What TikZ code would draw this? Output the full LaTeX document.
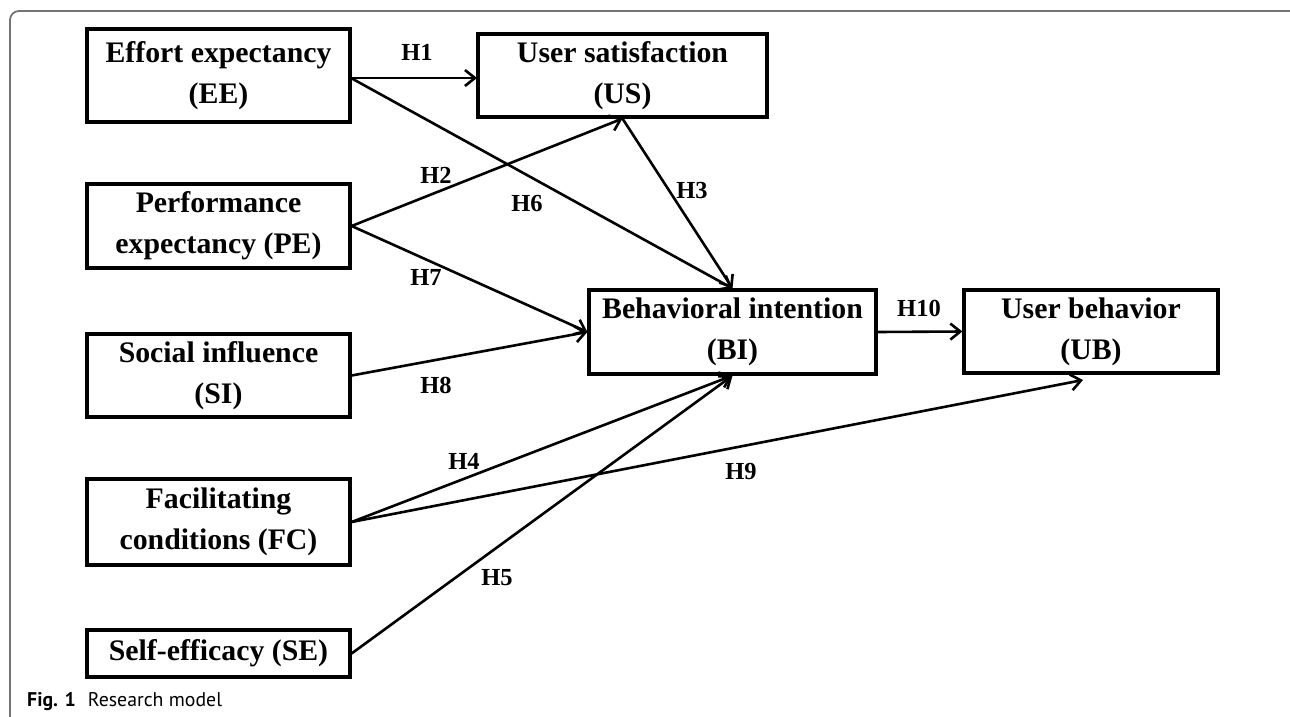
\documentclass[tikz,border=0pt]{standalone}
\usepackage{fontspec}
\setmainfont{Liberation Serif}
\newfontfamily\capfont{PT Sans}
\usetikzlibrary{arrows.meta}
\begin{document}
\begin{tikzpicture}[x=1pt,y=-1pt,
  box/.style={draw, line width=3.2pt, inner sep=0pt, align=center, font=\fontsize{29.8}{41}\selectfont\bfseries},
  hyp/.style={font=\fontsize{24.5}{24.5}\selectfont\bfseries, inner sep=0pt},
  conn/.style={line width=2.6pt, -{Straight Barb[length=10pt,width=16pt,line width=2.6pt]}},
]
\useasboundingbox (0,0) rectangle (1290,717);
\draw[black!55, line width=1.8pt, rounded corners=9pt] (10,717) -- (10,11) -- (1290,11);

\node[box, minimum width=263pt, minimum height=93pt] (EE) at (218.5,75.5) {Effort expectancy\\(EE)};
\node[box, minimum width=263pt, minimum height=84pt] (PE) at (218.5,226) {Performance\\expectancy (PE)};
\node[box, minimum width=263pt, minimum height=83pt] (SI) at (218.5,375.5) {Social influence\\(SI)};
\node[box, minimum width=263pt, minimum height=86pt] (FC) at (218.5,522) {Facilitating\\conditions (FC)};
\node[box, minimum width=263pt, minimum height=47pt] (SE) at (218.5,653.5) {Self-efficacy (SE)};
\node[box, minimum width=289pt, minimum height=83pt] (US) at (622.5,75.5) {User satisfaction\\(US)};
\node[box, minimum width=287pt, minimum height=84pt] (BI) at (732.5,332) {Behavioral intention\\(BI)};
\node[box, minimum width=254pt, minimum height=83pt] (UB) at (1091,331.5) {User behavior\\(UB)};

\coordinate (EEo) at (351,78);
\coordinate (USi) at (477,78);
\coordinate (UBtip) at (1083,380);

\draw[conn] (EEo) -- (USi);
\draw[conn] (EEo) -- (BI.north);
\draw[conn] (PE.east) -- (US.south);
\draw[conn] (US.south) -- (BI.north);
\draw[conn] (PE.east) -- (BI.west);
\draw[conn] (SI.east) -- (BI.west);
\draw[conn] (FC.east) -- (BI.south);
\draw[conn] (SE.east) -- (BI.south);
\draw[conn] (FC.east) -- (UBtip);
\draw[conn] (BI.east) -- (UB.west);

\node[hyp] (h1) at (417,52) {H1};
\node[hyp] (h2) at (436,175) {H2};
\node[hyp] (h3) at (692,191) {H3};
\node[hyp] (h4) at (464,461) {H4};
\node[hyp] (h5) at (497,578) {H5};
\node[hyp] (h6) at (527,204) {H6};
\node[hyp] (h7) at (426,277) {H7};
\node[hyp] (h8) at (436,385) {H8};
\node[hyp] (h9) at (741,472) {H9};
\node[hyp] (h10) at (919,308) {H10};

\node[anchor=base west, inner sep=0pt, font=\capfont\fontsize{19.8}{19.8}\selectfont] (cap) at (27,706) {\textbf{Fig. 1}\hspace{12pt}Research model};
\end{tikzpicture}
\end{document}
